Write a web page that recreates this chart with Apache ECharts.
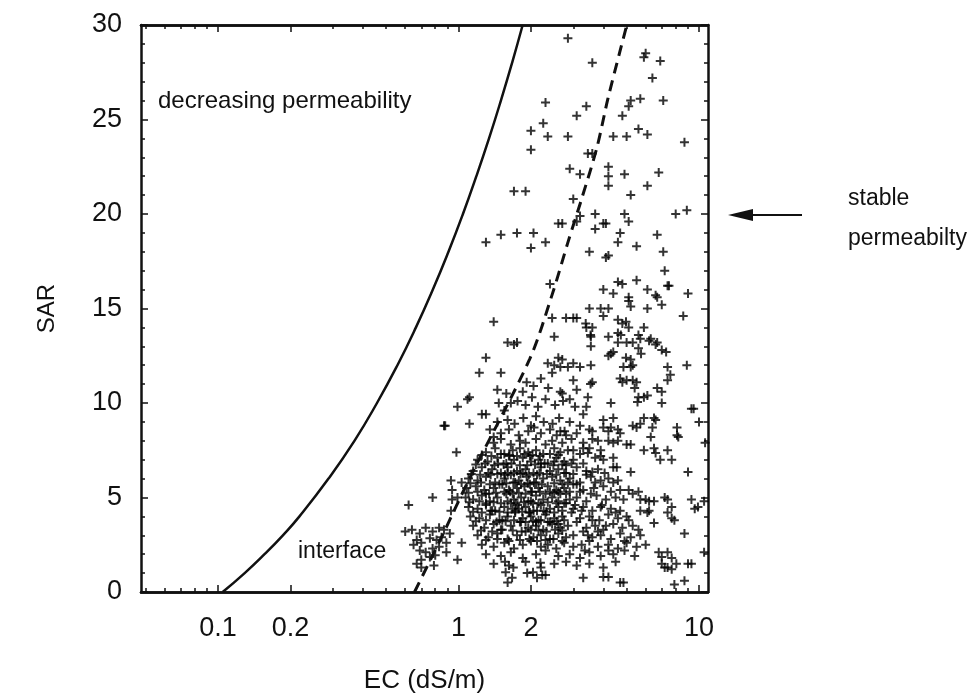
<!DOCTYPE html>
<html>
<head>
<meta charset="utf-8">
<script src="https://cdn.jsdelivr.net/npm/echarts@6/dist/echarts.min.js"></script>
<style>
  html, body { margin: 0; padding: 0; background: #fff; }
  #chart { width: 977px; height: 694px; }
</style>
</head>
<body>
<div id="chart"></div>
<script>
// EC range of the log axis (dS/m) and SAR range
var ecRange = [0.0478, 10.9];
var sarRange = [0, 30];
var labelTicks = [0.1, 0.2, 1, 2, 10];
var minorTicks = [0.05, 0.06, 0.07, 0.08, 0.09, 0.3, 0.4, 0.5, 0.6, 0.7, 0.8, 0.9, 3, 4, 5, 6, 7, 8, 9];

// solid curve: [EC, SAR]
var solidCurve = [[0.1045, 0], [0.129, 1], [0.156, 2], [0.186, 3], [0.218, 4], [0.288, 6], [0.369, 8], [0.458, 10],
  [0.557, 12], [0.665, 14], [0.782, 16], [0.908, 18], [1.043, 20], [1.186, 22], [1.339, 24], [1.50, 26],
  [1.67, 28], [1.848, 30]];

// dashed curve: [EC, SAR]
var dashedCurve = [[0.656, 0], [0.857, 3], [1.11, 6], [1.98, 12.35], [2.46, 15.8], [2.85, 18.5],
  [3.25, 20.8], [3.76, 23.5], [4.18, 26.1], [4.69, 28.6], [5.01, 30]];

// scattered samples, upper part
var upperPts = [[2.85,29.3],[3.6,28.0],[5.9,28.3],[6.0,28.5],[6.9,28.1],[6.4,27.2],
  [2.3,25.9],[3.4,25.7],[3.1,25.2],[5.2,26.0],[5.7,26.1],[5.1,25.7],[7.1,26.0],[4.8,25.2],
  [2.25,24.8],[2.0,24.4],[2.35,24.1],[2.85,24.1],[4.4,24.1],[5.0,24.1],[5.6,24.5],[6.1,24.2],[8.7,23.8],
  [2.0,23.4],[3.45,23.2],[3.6,23.2],[2.9,22.4],[3.2,22.1],[4.2,22.5],[4.2,22.0],[4.2,21.5],[4.9,22.1],[6.8,22.2],[6.1,21.5],
  [1.7,21.2],[1.9,21.2],[3.0,20.8],[5.2,21.0],[8.0,20.0],[8.9,20.2],
  [3.2,19.9],[3.7,20.0],[3.1,19.6],[4.9,20.0],[5.1,19.6],[4.1,19.5],[3.7,19.2],[4.7,19.0],[6.7,18.9],[2.7,19.5],[2.6,19.5],[4.0,19.5],
  [1.3,18.5],[1.5,18.9],[1.75,19.0],[2.05,19.0],[2.0,18.2],[2.3,18.5],[3.5,18.0],[4.2,17.8],[4.6,18.5],[5.5,18.3],[7.1,18.0],[4.1,17.7],
  [7.2,17.0],[7.5,16.2],[2.4,16.3],[4.6,16.4],[4.8,16.3],[5.5,16.5],[4.0,16.0],[4.4,15.8],[5.1,15.6],[6.1,16.0],[6.6,15.7],[9.0,15.8],
  [7.4,16.2],[8.6,14.6],[6.1,15.0],[6.7,15.6],[7.0,15.2],[5.1,15.4],[5.2,15.1],[3.5,15.0],[3.9,15.0],[4.2,15.0],
  [2.8,14.5],[3.0,14.5],[3.1,14.5],[3.4,14.0],[3.55,13.5],[3.55,13.0],[4.0,14.6],[4.6,14.4],[4.8,14.2],[4.6,13.7],
  [4.2,13.5],[4.6,13.2],[5.0,13.2],[5.3,13.2],[4.3,12.6],[4.4,12.7],[4.2,12.5],[5.7,13.4],[6.2,13.3],[6.6,13.1],[7.0,12.8],
  [5.6,12.9],[5.2,12.3],[8.9,12.0],[1.4,14.3],[1.6,13.2],[1.7,13.1],[1.75,13.2],[2.5,13.5],[2.45,14.5],[1.3,12.4],[2.6,12.4],[2.35,12.1],
  [3.38,14.2],[3.6,14.0],[4.97,14.3],[5.1,14.0],[4.73,13.6],[5.6,13.6],[5.9,14.0],[6.3,13.4],[6.7,13.2],[7.3,12.7],[3.54,13.6],[5.74,12.6],[4.97,12.4]];

// middle band
var middlePts = [[1.22,11.6],[1.5,11.6],[2.45,11.6],[1.45,10.7],[1.58,10.5],[1.11,10.3],[2.5,12.0],[2.65,11.9],[2.85,11.9],
  [3.0,12.1],[3.2,11.9],[3.55,12.0],[3.6,11.1],[3.45,10.3],[3.0,11.2],[3.1,10.7],[2.7,10.5],[2.9,10.2],[3.05,9.8],[3.4,9.8],
  [4.3,10.0],[5.6,10.3],[5.9,10.3],[9.3,9.7],[10.0,9.0],[8.1,8.7],[8.1,8.3],[6.4,8.7],[5.9,9.2],[6.5,9.2],[5.3,8.8],[5.7,8.9],
  [4.0,9.1],[4.4,9.2],[4.0,8.7],[4.2,8.5],[4.6,8.6],[3.8,8.0],[4.2,8.0],[4.6,8.0],[5.0,7.8],[5.2,7.8],
  [5.2,11.9],[4.7,11.3],[5.0,11.2],[5.3,11.2],[5.4,10.8],[7.4,11.9],[7.6,11.5],[7.4,11.2],[6.7,10.8],
  [1.09,10.2],[0.99,9.8],[0.88,8.8],[1.11,8.9],[1.25,9.4],[1.3,9.4],[1.47,10.0],
  [2.7,12.3],[4.85,11.9],[5.3,12.0],[5.5,11.1],[4.8,11.1],[3.54,11.0],[2.65,10.6],[6.1,10.4],[7.0,10.6],
  [5.55,10.05],[7.0,10.0],[9.5,9.7],[3.3,9.4],[8.2,8.2],[6.6,9.1],[5.5,8.7],[4.3,8.7],[4.7,8.4],[3.6,8.5],[6.3,8.2],[10.6,7.9],
  [2.65,8.5],[2.8,8.3],[4.4,7.9],[5.9,7.5],[6.5,7.6],[6.6,7.35],[6.9,7.0],[7.4,7.5],[7.7,7.0],[3.0,7.5],[3.45,7.35],
  [3.9,7.5],[4.0,7.0],[4.4,7.1],[4.4,6.6],[9.0,6.35],[5.2,6.35],[3.6,6.35],
  [1.35,8.6],[1.45,9.0],[1.55,9.6],[1.65,10.0],[1.85,10.6],[1.4,8.2]];

// lower right part
var lowerPts = [[4.4,5.8],[4.6,5.9],[4.7,5.4],[4.85,4.9],[4.7,4.3],[5.1,5.4],[5.3,5.2],[5.6,5.3],[5.7,4.9],[6.0,4.9],
  [6.2,4.8],[6.5,4.8],[6.2,4.3],[7.2,5.0],[7.4,4.9],[7.7,4.5],[7.4,4.2],[7.7,3.9],[7.9,3.8],[9.3,4.9],[9.6,4.4],[9.9,4.5],
  [10.5,4.8],[8.7,3.1],[5.7,4.3],[6.1,4.2],[6.5,3.65],[10.5,2.1],[9.3,1.5],[6.8,2.1],[7.0,1.85],[7.4,2.1],[7.7,1.8],[7.0,1.5],
  [7.2,1.3],[7.4,1.3],[7.7,1.2],[8.05,1.5],[9.0,1.5],[8.7,0.6],[7.9,0.4],[4.85,0.5],[4.0,0.8],[3.3,0.75],[4.2,0.8],[4.7,0.5],
  [1.56,1.6],[1.69,1.3],[1.57,1.05],[1.6,0.5],[1.67,0.75],[1.93,1.0],[2.04,1.05],[2.19,1.55],[2.23,0.9],[2.3,0.9],[2.12,0.75],
  [3.4,6.2],[3.7,5.8],[4.05,6.3],[3.55,5.2],[3.9,4.5],[4.3,5.3],[3.25,4.3],[3.6,3.8],[4.1,3.5],[4.5,4.2],[3.45,3.0],[3.8,3.2],
  [4.2,2.2],[4.9,2.7],[3.35,2.2],[5.6,3.3],[5.1,3.8],[4.55,6.6],[3.9,7.2],[3.3,7.6],[3.6,8.1]];

// left edge and interface group
var interfacePts = [[0.6,3.2],[0.64,3.3],[0.69,3.1],[0.73,3.4],[0.78,3.2],[0.83,3.4],[0.67,2.75],[0.7,2.6],[0.76,2.85],
  [0.81,2.75],[0.85,2.9],[0.92,3.1],[0.69,2.2],[0.73,2.1],[0.78,2.3],[0.83,2.4],[0.89,2.6],[0.7,1.7],[0.76,1.85],[0.67,1.5],
  [0.8,1.95],[0.89,2.1],[0.7,1.3],[0.99,1.7],[1.03,2.6],[0.65,2.5],[0.87,3.3],[0.79,1.4],
  [0.93,5.9],[1.03,5.8],[0.94,5.4],[0.99,5.0],[0.94,4.9],[0.93,4.3],[0.78,5.0],[0.62,4.6],[0.98,7.4],[0.87,8.8]];

// dense core
var corePts = [[1.92,11.1],[2.05,10.9],[2.2,11.3],[2.36,10.8],
  [1.76,10.1],[1.9,9.9],[2.02,10.3],[2.14,9.8],[2.3,10.2],[2.52,9.9],[2.72,10.1],
  [1.6,9.1],[1.71,8.9],[1.86,9.2],[2.0,8.8],[2.1,9.3],[2.26,9.0],[2.46,8.9],[2.62,9.2],[2.9,9.0],[3.2,8.8],
  [1.5,8.4],[1.62,8.6],[1.78,8.3],[1.95,8.5],[2.06,8.7],[2.2,8.4],[2.4,8.6],[2.56,8.3],[2.76,8.5],[3.1,8.4],[3.5,8.6],
  [1.4,7.9],[1.5,8.1],[1.65,7.8],[1.8,8.0],[1.9,7.9],[2.1,8.1],[2.3,7.8],[2.45,8.0],[2.7,7.9],[2.95,8.1],[3.3,7.9],
  [1.3,7.4],[1.42,7.6],[1.55,7.3],[1.68,7.5],[1.8,7.6],[1.95,7.4],[2.1,7.5],[2.25,7.3],[2.5,7.6],[2.65,7.4],[2.85,7.5],[3.2,7.3],[3.5,7.6],
  [1.2,7.0],[1.32,6.9],[1.45,7.1],[1.58,6.8],[1.7,7.0],[1.85,7.1],[2.0,6.9],[2.15,7.0],[2.35,6.8],[2.55,7.1],[2.75,6.9],[3.0,7.0],[3.3,6.8],[3.7,7.1],
  [1.15,6.4],[1.25,6.6],[1.38,6.5],[1.5,6.3],[1.6,6.6],[1.75,6.4],[1.9,6.5],[2.05,6.3],[2.2,6.6],[2.4,6.4],[2.6,6.5],[2.8,6.3],[3.1,6.6],[3.4,6.4],[3.8,6.5],
  [1.1,6.0],[1.2,5.9],[1.3,6.1],[1.42,5.8],[1.55,6.0],[1.65,6.2],[1.78,5.9],[1.92,6.1],[2.1,5.8],[2.25,6.0],[2.45,6.1],[2.65,5.9],[2.9,6.0],[3.2,5.8],[3.55,6.1],[3.9,5.9],[4.2,6.0],
  [1.08,5.5],[1.18,5.6],[1.28,5.4],[1.4,5.5],[1.52,5.7],[1.62,5.4],[1.75,5.5],[1.88,5.6],[2.0,5.3],[2.15,5.5],[2.35,5.6],[2.55,5.4],[2.75,5.5],[3.0,5.7],[3.3,5.4],[3.65,5.5],[4.0,5.6],
  [1.07,5.0],[1.15,4.9],[1.25,5.1],[1.35,4.8],[1.45,5.0],[1.58,5.2],[1.7,4.9],[1.82,5.0],[1.95,4.8],[2.1,5.1],[2.25,4.9],[2.45,5.0],[2.65,5.2],[2.9,4.9],[3.1,5.0],[3.4,4.8],[3.75,5.1],[4.1,4.9],[4.5,5.0],
  [1.1,4.5],[1.2,4.4],[1.3,4.6],[1.42,4.3],[1.55,4.5],[1.65,4.7],[1.78,4.4],[1.9,4.5],[2.05,4.3],[2.2,4.6],[2.4,4.4],[2.6,4.5],[2.8,4.7],[3.0,4.4],[3.3,4.5],[3.6,4.3],[3.95,4.6],[4.3,4.4],
  [1.12,4.0],[1.22,3.9],[1.35,4.1],[1.48,3.8],[1.6,4.0],[1.72,4.2],[1.85,3.9],[2.0,4.0],[2.15,3.8],[2.3,4.1],[2.5,3.9],[2.7,4.0],[2.95,4.2],[3.2,3.9],[3.5,4.0],[3.85,3.8],[4.2,4.1],[4.6,3.9],[5.0,4.0],
  [1.15,3.5],[1.28,3.4],[1.4,3.6],[1.52,3.3],[1.65,3.5],[1.8,3.7],[1.95,3.4],[2.1,3.5],[2.25,3.3],[2.45,3.6],[2.65,3.4],[2.85,3.5],[3.1,3.7],[3.4,3.4],[3.7,3.5],[4.0,3.3],[4.4,3.6],[4.8,3.4],[5.3,3.5],
  [1.2,3.0],[1.33,2.9],[1.45,3.1],[1.6,2.8],[1.75,3.0],[1.9,3.2],[2.05,2.9],[2.2,3.0],[2.4,2.8],[2.6,3.1],[2.8,2.9],[3.0,3.0],[3.3,3.2],[3.6,2.9],[3.9,3.0],[4.3,2.8],[4.7,3.1],[5.2,2.9],[5.7,3.0],
  [1.25,2.5],[1.4,2.4],[1.55,2.6],[1.7,2.3],[1.85,2.5],[2.0,2.7],[2.2,2.4],[2.35,2.5],[2.55,2.3],[2.75,2.6],[3.0,2.4],[3.25,2.5],[3.5,2.7],[3.8,2.4],[4.2,2.5],[4.6,2.3],[5.0,2.6],[5.5,2.4],[6.0,2.5],
  [1.3,2.0],[1.5,1.9],[1.65,2.1],[1.85,1.8],[2.1,2.0],[2.3,2.2],[2.6,1.9],[2.9,2.0],[3.2,1.8],[3.5,2.1],[3.9,1.9],[4.4,2.0],[4.9,2.2],[5.4,1.9],
  [1.4,1.5],[1.62,1.4],[1.9,1.6],[2.2,1.3],[2.5,1.5],[2.8,1.6],[3.1,1.4],[3.5,1.5],[4.0,1.3],[4.5,1.6],
  [1.36,6.2],[1.48,5.7],[1.6,6.3],[1.72,5.8],[1.85,6.3],[1.98,5.7],[2.12,6.2],[1.34,5.2],[1.5,4.7],[1.64,5.3],[1.76,4.6],
  [1.9,5.2],[2.04,4.7],[2.18,5.3],[1.38,4.3],[1.52,3.8],[1.68,4.4],[1.82,3.7],[1.96,4.2],[2.1,3.7],[2.26,4.3],[1.46,6.8],
  [1.62,7.2],[1.8,6.7],[1.98,7.2],[2.2,6.8],[2.4,5.3],[2.55,4.7],[2.35,3.7],[2.6,3.6],[2.7,5.7],[2.9,5.3],[3.05,4.6],[3.2,5.3],[2.5,6.9],[2.8,6.7]];

// darkest part of the core, offset rows
var darkPts = [[1.25,7.25],[1.37,7.2],[1.5,7.3],[1.63,7.25],[1.75,7.2],[1.88,7.3],[2.03,7.25],[2.18,7.2],[2.4,7.3],[2.6,7.25],
  [1.18,6.75],[1.29,6.8],[1.41,6.7],[1.54,6.75],[1.66,6.8],[1.93,6.7],[2.08,6.75],[2.28,6.8],[2.48,6.7],[2.7,6.75],[2.95,6.8],
  [1.13,6.25],[1.23,6.2],[1.33,6.3],[1.45,6.25],[1.56,6.2],[1.7,6.3],[1.81,6.25],[1.96,6.2],[2.17,6.3],[2.33,6.25],[2.55,6.2],[2.75,6.3],[3.0,6.25],
  [1.12,5.75],[1.24,5.8],[1.35,5.7],[1.58,5.75],[1.69,5.8],[1.82,5.7],[1.94,5.75],[2.06,5.8],[2.22,5.7],[2.5,5.75],[2.85,5.8],[3.1,5.7],
  [1.1,5.25],[1.2,5.3],[1.3,5.2],[1.43,5.25],[1.55,5.3],[1.68,5.2],[1.78,5.25],[2.02,5.3],[2.3,5.2],[2.5,5.25],[2.6,5.3],[2.8,5.2],
  [1.11,4.75],[1.22,4.8],[1.3,4.7],[1.4,4.75],[1.6,4.8],[1.73,4.7],[1.87,4.75],[2.0,4.8],[2.15,4.7],[2.35,4.75],[2.6,4.8],[2.75,4.7],
  [1.15,4.25],[1.25,4.2],[1.36,4.3],[1.48,4.25],[1.6,4.2],[1.72,4.3],[1.84,4.25],[1.98,4.2],[2.12,4.3],[2.32,4.25],[2.5,4.2],[2.7,4.3],
  [1.18,3.75],[1.3,3.8],[1.44,3.7],[1.57,3.75],[1.7,3.8],[1.9,3.7],[2.04,3.75],[2.2,3.8],[2.4,3.7],[2.56,3.75],[2.75,3.8],
  [1.24,3.25],[1.38,3.2],[1.5,3.3],[1.68,3.25],[1.83,3.2],[2.0,3.3],[2.15,3.25],[2.32,3.2],[2.52,3.3],[2.7,3.25],
  [1.3,2.75],[1.45,2.8],[1.62,2.7],[1.8,2.75],[1.97,2.8],[2.12,2.7],[2.3,2.75],[2.48,2.8],[2.7,2.7]];

var lg = function (v) { return Math.log10(v); };
var toXY = function (p) { return [lg(p[0]), p[1]]; };
var allPts = upperPts.concat(middlePts, lowerPts, interfacePts, corePts, darkPts).map(toXY);

var FONT = 'Liberation Sans';
var INK = '#111';
var plusPath = 'path://M3.5,0h2v3.5h3.5v2h-3.5v3.5h-2v-3.5h-3.5v-2h3.5z';

function xAxisDef(pos, ticks, len, withLabel) {
  return {
    type: 'value', position: pos, gridIndex: 0,
    min: lg(ecRange[0]), max: lg(ecRange[1]),
    axisLine: { show: true, onZero: false, lineStyle: { color: INK, width: 2.5 } },
    axisTick: { show: true, inside: true, length: len, customValues: ticks.map(lg), lineStyle: { color: INK, width: 1.5 } },
    axisLabel: withLabel ? {
      show: true, customValues: labelTicks.map(lg), margin: 23, color: INK, fontSize: 27, fontFamily: FONT,
      formatter: function (v) { return String(+Math.pow(10, v).toPrecision(3)); }
    } : { show: false },
    splitLine: { show: false }
  };
}

function yAxisDef(pos, withLabel) {
  return {
    type: 'value', position: pos, min: sarRange[0], max: sarRange[1], interval: 5,
    axisLine: { show: true, onZero: false, lineStyle: { color: INK, width: 2.5 } },
    axisTick: { show: true, inside: true, length: 7, lineStyle: { color: INK, width: 1.5 } },
    minorTick: { show: true, splitNumber: 5, length: 4, lineStyle: { color: INK, width: 1.5 } },
    axisLabel: withLabel ? { show: true, margin: 19, color: INK, fontSize: 27, fontFamily: FONT } : { show: false },
    splitLine: { show: false },
    minorSplitLine: { show: false }
  };
}

var chart = echarts.init(document.getElementById('chart'), null, { renderer: 'canvas' });

var xMain = xAxisDef('bottom', labelTicks, 7, true);
xMain.name = 'EC (dS/m)';
xMain.nameLocation = 'middle';
xMain.nameGap = 76;
xMain.nameTextStyle = { color: INK, fontSize: 26, fontFamily: FONT };

var yMain = yAxisDef('left', true);
yMain.name = 'SAR';
yMain.nameLocation = 'middle';
yMain.nameGap = 82;
yMain.nameRotate = 90;
yMain.nameTextStyle = { color: INK, fontSize: 24, fontFamily: FONT };

var option = {
  animation: false,
  backgroundColor: '#fff',
  grid: { left: 141, right: 269, top: 25, bottom: 102, containLabel: false, outerBoundsMode: 'none' },
  xAxis: [
    xMain,
    xAxisDef('bottom', minorTicks, 4, false),
    xAxisDef('top', labelTicks, 7, false),
    xAxisDef('top', minorTicks, 4, false)
  ],
  yAxis: [yMain, yAxisDef('right', false)],
  series: [
    {
      type: 'line', name: 'decreasing limit', xAxisIndex: 0, yAxisIndex: 0,
      data: solidCurve.map(toXY), showSymbol: false, smooth: true,
      lineStyle: { color: INK, width: 2.5 }, z: 3
    },
    {
      type: 'line', name: 'interface', xAxisIndex: 0, yAxisIndex: 0,
      data: dashedCurve.map(toXY), showSymbol: false, smooth: 0.3,
      lineStyle: { color: INK, width: 3, type: [11, 7] }, z: 3
    },
    {
      type: 'scatter', name: 'samples', xAxisIndex: 0, yAxisIndex: 0,
      data: allPts, symbol: plusPath, symbolSize: 9,
      itemStyle: { color: '#000' }, z: 2
    }
  ],
  graphic: [
    { type: 'text', x: 158, y: 101, style: { text: 'decreasing permeability', fill: INK, fontSize: 24, fontFamily: FONT, verticalAlign: 'middle' } },
    { type: 'text', x: 298, y: 552, style: { text: 'interface', fill: INK, fontSize: 23, fontFamily: FONT, verticalAlign: 'middle' } },
    { type: 'text', x: 848, y: 199, style: { text: 'stable', fill: INK, fontSize: 23, fontFamily: FONT, verticalAlign: 'middle' } },
    { type: 'text', x: 848, y: 239, style: { text: 'permeabilty', fill: INK, fontSize: 23, fontFamily: FONT, verticalAlign: 'middle' } },
    { type: 'line', shape: { x1: 748, y1: 215, x2: 802, y2: 215 }, style: { stroke: INK, lineWidth: 2 } },
    { type: 'polygon', shape: { points: [[728, 215], [753, 209], [753, 221]] }, style: { fill: INK } }
  ]
};

chart.setOption(option);
</script>
</body>
</html>
